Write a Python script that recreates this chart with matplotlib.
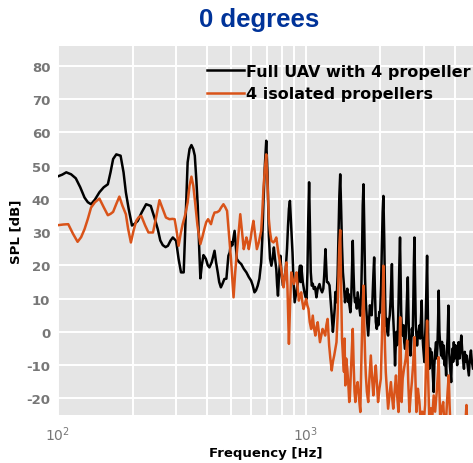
import matplotlib
matplotlib.use("Agg")
import matplotlib.pyplot as plt
from matplotlib.ticker import LogLocator, NullFormatter

plt.rcParams['axes.unicode_minus'] = False
plt.rcParams['font.family'] = ['DejaVu Sans']

title = "0 degrees"
label_full = "Full UAV with 4 propeller"
label_iso = "4 isolated propellers"

full_f = [100, 104, 108, 113, 118, 123, 128, 132, 136, 141, 147, 153, 159, 163, 167, 172, 179, 184, 188, 193,
          199, 204, 210, 218, 227, 237, 245, 253, 259, 265, 272, 278, 285, 291, 300, 307, 314, 322, 328, 334,
          340, 346, 352, 357, 362, 367, 372, 376, 381, 387, 392, 396, 403, 409, 418, 429, 435, 442, 448, 455,
          462, 470, 479, 488, 494, 500, 506, 517, 528, 539, 550, 563, 577, 590, 603, 612, 622, 631, 641, 651,
          662, 669, 676, 685, 694, 702, 711, 719, 728, 736, 745, 753, 762, 768, 774, 783, 792, 801, 811, 821,
          832, 842, 850, 857, 865, 872, 879, 886, 895, 904, 918, 932, 940, 950, 955, 961, 975, 990, 1000, 1010,
          1018, 1026, 1034, 1042, 1050, 1060, 1070, 1080, 1093, 1107, 1120, 1139, 1150, 1167, 1180, 1190, 1197, 1204, 1212, 1220,
          1234, 1250, 1262, 1276, 1290, 1300, 1312, 1320, 1334, 1348, 1360, 1370, 1381, 1392, 1404, 1416, 1430, 1444, 1455, 1464,
          1475, 1486, 1493, 1505, 1518, 1530, 1540, 1552, 1563, 1574, 1585, 1600, 1612, 1624, 1640, 1652, 1665, 1680, 1692, 1703,
          1715, 1727, 1740, 1753, 1766, 1779, 1792, 1805, 1820, 1836, 1850, 1865, 1880, 1894, 1908, 1923, 1941, 1955, 1970, 1986,
          2002, 2020, 2035, 2050, 2064, 2080, 2095, 2110, 2125, 2140, 2156, 2170, 2190, 2205, 2220, 2234, 2250, 2268, 2285, 2300,
          2315, 2330, 2345, 2357, 2370, 2385, 2397, 2409, 2420, 2435, 2450, 2470, 2490, 2505, 2525, 2545, 2560, 2575, 2590, 2605,
          2620, 2637, 2655, 2672, 2690, 2711, 2725, 2740, 2755, 2770, 2790, 2805, 2823, 2845, 2865, 2885, 2905, 2925, 2948, 2965,
          2985, 3000, 3022, 3040, 3060, 3080, 3099, 3115, 3130, 3150, 3165, 3185, 3210, 3235, 3255, 3275, 3295, 3315, 3340, 3368,
          3390, 3410, 3430, 3452, 3475, 3500, 3530, 3560, 3590, 3617, 3640, 3670, 3700, 3720, 3750, 3780, 3805, 3830, 3850, 3877,
          3900, 3930, 3950, 3974, 4000, 4030, 4066, 4100, 4130, 4153, 4190, 4220, 4260, 4300, 4340, 4367, 4400, 4440, 4470, 4520,
          4570, 4610, 4660, 4700, 4750]
full_spl = [46.8, 47.3, 48.0, 47.4, 46.2, 43.5, 40.4, 39.0, 38.4, 39.8, 42.0, 43.5, 44.4, 48.0, 52.0, 53.4, 53.0, 48.0, 42.0, 37.0,
            32.0, 32.5, 33.4, 36.0, 38.4, 37.9, 34.5, 30.9, 27.5, 26.1, 25.5, 25.9, 27.5, 28.4, 27.4, 22.0, 17.9, 17.9, 35.0, 51.0,
            55.0, 56.2, 55.0, 53.0, 46.0, 37.9, 25.0, 16.1, 20.0, 23.1, 22.5, 21.9, 20.0, 19.4, 21.0, 24.4, 21.0, 17.9, 15.0, 13.4,
            14.5, 15.9, 16.0, 22.9, 23.9, 27.0, 26.0, 30.4, 21.9, 21.0, 20.4, 19.0, 17.9, 16.5, 15.4, 14.0, 11.9, 12.5, 13.9, 16.0,
            20.9, 28.0, 38.9, 50.0, 57.5, 48.0, 28.9, 22.0, 19.9, 22.0, 25.4, 22.0, 18.9, 14.0, 10.9, 18.0, 22.9, 17.0, 13.9, 16.0,
            18.9, 25.0, 32.0, 37.0, 39.4, 34.0, 28.0, 23.9, 15.0, 8.9, 12.0, 14.9, 17.0, 19.9, 15.0, 19.9, 15.0, 11.9, 10.5, 9.9,
            18.0, 34.0, 45.0, 32.0, 18.0, 13.9, 14.5, 12.9, 13.5, 10.4, 13.0, 14.4, 13.0, 11.9, 13.0, 17.0, 21.0, 24.9, 20.0, 15.0,
            14.9, 14.0, 10.0, 5.0, 0.0, 3.0, 7.0, 12.0, 8.9, 17.0, 30.0, 41.0, 47.4, 38.0, 26.0, 18.0, 14.0, 8.9, 12.0, 10.9,
            13.0, 9.0, 11.4, 8.0, 5.9, 10.0, 18.0, 27.4, 18.0, 11.0, 8.9, 10.0, 7.0, 11.9, 9.0, 7.0, 4.9, 12.0, 24.0, 38.0,
            44.4, 32.0, 16.0, 8.9, 5.0, 2.0, -1.1, 3.0, 8.0, 6.9, 5.0, 10.0, 17.0, 22.4, 12.0, 3.0, 0.9, 4.0, 2.0, 6.0,
            5.9, 14.0, 26.0, 36.0, 40.9, 28.0, 12.0, 1.9, 4.0, 0.0, -1.1, 3.0, 5.0, 9.0, 15.0, 20.4, 8.0, 2.0, -3.0, -10.1,
            -4.0, 0.0, -4.0, -2.1, 5.0, 15.0, 22.0, 28.4, 18.0, 6.0, 1.0, -1.1, 2.0, -3.0, -5.1, 0.0, 6.0, 12.0, 16.4, 6.0,
            -2.0, -5.0, -7.1, -3.0, 1.0, -1.1, 8.0, 20.0, 28.4, 16.0, 2.0, -1.0, -4.1, -1.0, 0.0, 1.9, -2.0, 3.0, 9.4, 0.0,
            -4.0, -6.0, -9.1, -3.0, 4.0, 14.0, 22.9, 10.0, -2.0, -8.0, -11.1, -5.0, -8.0, -6.1, -10.0, -14.0, -18.1, -10.0, -6.0, -3.1,
            -8.0, -5.0, 2.0, 12.4, 0.0, -4.0, -7.1, -3.0, -8.0, -4.1, -10.0, -8.0, -13.1, -6.0, -2.0, 7.9, -6.0, -10.0, -12.0, -15.1,
            -8.0, -5.0, -9.0, -3.1, -8.0, -4.0, -6.1, -10.0, -5.0, -3.1, -8.0, -5.0, -1.1, -6.0, -9.0, -11.1, -6.0, -9.0, -7.1, -10.0,
            -13.1, -8.0, -5.6, -9.0, -11.0]

iso_f = [100, 105, 110, 115, 120, 124, 128, 132, 136, 141, 147, 153, 159, 163, 167, 172, 177, 182, 188, 192,
         197, 202, 207, 212, 217, 225, 232, 242, 250, 257, 265, 273, 282, 290, 296, 302, 307, 313, 319, 326,
         334, 340, 346, 352, 357, 366, 376, 383, 390, 397, 404, 415, 422, 429, 439, 448, 457, 466, 474, 482,
         491, 500, 507, 512, 520, 528, 537, 545, 554, 563, 570, 577, 584, 590, 600, 608, 616, 626, 636, 648,
         662, 669, 676, 685, 694, 702, 711, 719, 728, 742, 752, 762, 770, 778, 788, 798, 806, 815, 826, 837,
         845, 851, 857, 866, 876, 887, 898, 910, 920, 930, 940, 950, 961, 971, 982, 994, 1006, 1017, 1028, 1040,
         1054, 1062, 1070, 1083, 1096, 1108, 1120, 1132, 1144, 1158, 1172, 1186, 1201, 1214, 1228, 1237, 1246, 1260, 1276, 1290,
         1306, 1320, 1334, 1348, 1360, 1370, 1381, 1392, 1404, 1416, 1430, 1438, 1448, 1460, 1475, 1490, 1502, 1510, 1525, 1540,
         1552, 1565, 1578, 1590, 1605, 1624, 1645, 1665, 1680, 1698, 1715, 1730, 1742, 1753, 1770, 1792, 1812, 1836, 1858, 1880,
         1900, 1923, 1945, 1964, 1990, 2015, 2035, 2050, 2064, 2080, 2095, 2110, 2135, 2156, 2185, 2213, 2240, 2262, 2290, 2320,
         2350, 2375, 2390, 2400, 2413, 2428, 2445, 2470, 2500, 2540, 2575, 2600, 2630, 2660, 2690, 2720, 2755, 2780, 2805, 2845,
         2885, 2920, 2960, 3000, 3040, 3070, 3099, 3125, 3165, 3210, 3250, 3295, 3340, 3390, 3430, 3452, 3475, 3500, 3550, 3600,
         3640, 3700, 3750, 3790, 3820, 3860, 3950, 4050, 4150, 4250, 4350, 4420, 4470, 4510, 4600, 4750]
iso_spl = [32.1, 32.3, 32.4, 29.5, 27.1, 28.5, 30.9, 34.0, 37.4, 39.0, 40.1, 37.5, 35.1, 35.5, 36.1, 38.5, 40.7, 38.0, 35.4, 31.0,
           26.9, 30.5, 33.4, 34.5, 34.9, 32.0, 29.9, 29.9, 35.0, 39.6, 37.0, 34.4, 33.9, 34.0, 33.9, 30.0, 25.9, 29.5, 32.4, 35.0,
           38.9, 44.0, 46.7, 44.0, 39.9, 32.0, 26.4, 28.5, 30.9, 33.0, 33.9, 32.4, 34.5, 35.9, 36.0, 36.4, 37.5, 38.4, 37.5, 36.4,
           29.0, 21.9, 15.0, 10.4, 18.0, 23.9, 30.0, 35.4, 30.0, 24.9, 26.5, 28.4, 27.0, 24.9, 28.0, 31.0, 33.4, 29.0, 24.9, 27.0,
           30.4, 36.0, 42.9, 49.0, 53.4, 45.0, 33.9, 30.0, 27.4, 26.9, 27.5, 28.4, 26.0, 23.4, 21.0, 18.9, 16.0, 13.4, 17.0, 20.9,
           14.0, 5.0, -3.6, 8.0, 17.9, 16.0, 14.4, 16.0, 17.9, 13.0, 9.4, 11.0, 11.9, 9.0, 6.9, 8.5, 9.9, 8.0, 6.9, 3.0,
           0.9, 3.0, 4.9, 1.0, -1.1, 1.5, 2.9, 0.0, -3.1, -1.0, 0.9, 0.0, -1.1, 2.0, 3.9, 0.0, -4.1, -8.0, -11.6, -9.0,
           -7.1, -5.0, -3.1, 5.0, 18.0, 26.0, 30.6, 15.0, -2.0, -7.1, -12.0, -2.0, -16.1, -8.0, -11.1, -16.0, -21.1, -20.1, -12.0, -5.0,
           0.9, -10.0, -18.0, -21.1, -17.0, -15.1, -20.0, -24.1, -10.0, 5.0, 13.9, 0.0, -8.0, -13.1, -18.0, -21.1, -14.0, -7.1, -14.0, -19.1,
           -14.0, -10.1, -16.0, -21.1, -17.0, -14.1, -2.0, 10.0, 19.9, 5.0, -5.0, -12.1, -18.0, -23.1, -19.0, -15.1, -20.0, -23.1, -18.0, -13.1,
           -20.0, -24.1, -15.0, -3.0, 4.4, -8.0, -21.1, -14.0, -11.1, -8.0, -2.6, -15.0, -24.1, -19.0, -15.1, -10.0, -1.6, -14.0, -24.1, -17.1,
           -21.0, -27.0, -24.0, -28.0, -22.0, -8.0, 3.4, -12.0, -27.0, -23.0, -26.0, -19.1, -24.0, -18.0, -12.0, -7.6, -18.0, -26.0, -23.0, -21.1,
           -28.0, -26.0, -18.0, -13.1, -22.0, -30.0, -30.0, -30.0, -30.0, -27.0, -30.0, -28.0, -22.0, -30.0, -30.0, -30.0]

y_ticks = [-20, -10, 0, 10, 20, 30, 40, 50, 60, 70, 80]

W, H = 473, 464
fig = plt.figure(figsize=(W / 100, H / 100), dpi=100)
ax = fig.add_axes([58 / W, 48 / H, (W - 58) / W, (416 - 47) / H])
ax.set_facecolor('#E5E5E5')
for s in ax.spines.values():
    s.set_visible(False)

ax.plot(full_f, full_spl, color='black', lw=1.8, label=label_full, zorder=3)
ax.plot(iso_f, iso_spl, color='#D95319', lw=1.8, label=label_iso, zorder=4)

ax.set_xscale('log')
ax.set_xlim(100, 4750)
ax.set_ylim(-25, 86)
ax.set_yticks(y_ticks)
ax.set_yticklabels([str(v) for v in y_ticks])
ax.xaxis.set_major_locator(LogLocator(base=10, numticks=10))
ax.xaxis.set_minor_locator(LogLocator(base=10, subs=range(2, 10), numticks=20))
ax.xaxis.set_minor_formatter(NullFormatter())

ax.grid(True, which='major', color='white', lw=1.4, zorder=1)
ax.grid(True, which='minor', axis='x', color='white', lw=1.4, zorder=1)
ax.set_axisbelow(True)

ax.tick_params(axis='both', which='both', length=0)
ax.tick_params(axis='y', pad=5.5, labelsize=9.5, labelcolor='#777777')
ax.tick_params(axis='x', pad=7, labelsize=10, labelcolor='#777777')
for lbl in ax.get_yticklabels():
    lbl.set_fontweight('bold')

ax.set_xlabel('Frequency [Hz]', fontsize=9.5, fontweight='bold', labelpad=2)
ax.set_ylabel('SPL [dB]', fontsize=9.5, fontweight='bold', labelpad=3)

leg = ax.legend(loc='upper left', bbox_to_anchor=(207 / W, 1 - 65 / H), bbox_transform=fig.transFigure,
                frameon=False, handlelength=2.3, handletextpad=0.15,
                borderpad=0, borderaxespad=0, labelspacing=0.45,
                prop={'weight': 'bold', 'size': 11.5})

fig.text(259 / W, 1 - 20 / H, title, ha='center', va='center', fontsize=18.5, fontweight='bold',
         color='#003399', family='Liberation Sans')

fig.savefig('out.png', dpi=100)
